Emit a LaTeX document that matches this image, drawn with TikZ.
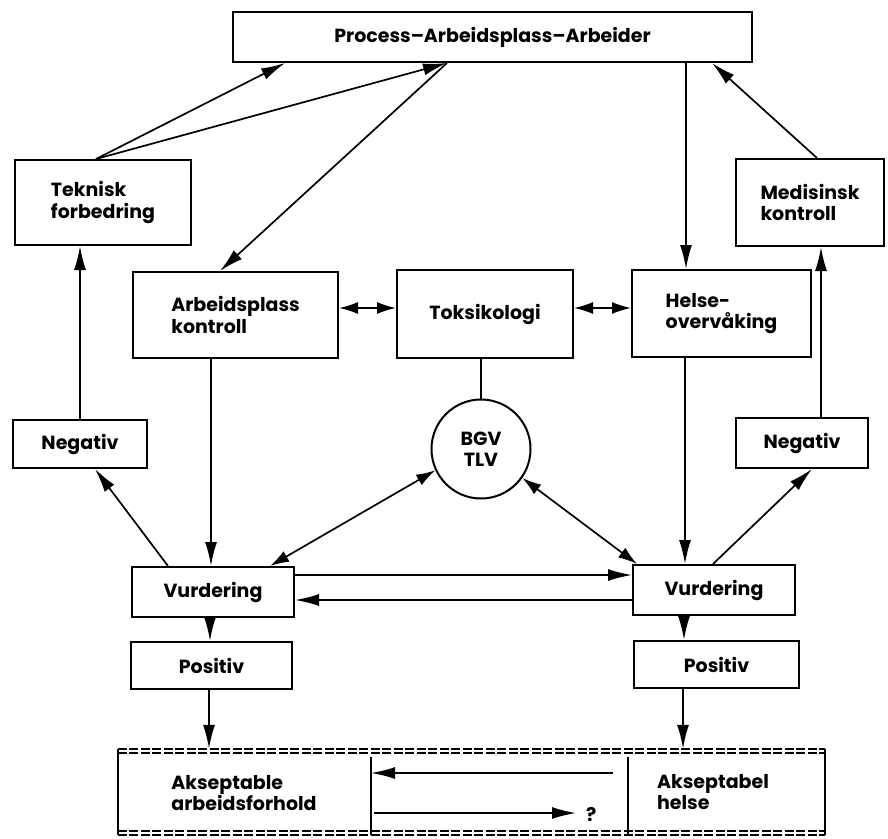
\documentclass[tikz,border=0pt]{standalone}
\usepackage{fontspec}
\setmainfont{Poppins}
\usetikzlibrary{arrows.meta,calc}
\begin{document}
\begin{tikzpicture}[x=1pt,y=-1pt,
  font=\fontsize{19}{21.5}\selectfont\bfseries,
  box/.style={draw, line width=2pt, inner sep=0pt, align=left},
  arr/.style={line width=1.7pt, -{Latex[length=24pt,width=12pt]}},
  darr/.style={line width=1.7pt, {Latex[length=19pt,width=12pt]}-{Latex[length=19pt,width=12pt]}},
  ln/.style={line width=1.7pt},
  dd/.style={line width=1.6pt, dash pattern=on 9pt off 2.5pt}]
\useasboundingbox (0,0) rectangle (888,838);
% boxes
\node[box, minimum width=519pt, minimum height=50pt] (top) at (492.5,37) {Process–Arbeidsplass–Arbeider};
\node[box, minimum width=176pt, minimum height=85pt] (tek) at (103,202.5) {Teknisk\\forbedring};
\node[box, minimum width=148pt, minimum height=87pt] (med) at (810,202.5) {Medisinsk\\kontroll};
\node[box, minimum width=205pt, minimum height=86pt] (arb) at (235.5,315) {Arbeidsplass\\kontroll};
\node[box, minimum width=176pt, minimum height=88pt] (tok) at (485,314) {Toksikologi};
\node[box, minimum width=179pt, minimum height=87pt] (hel) at (721.5,313.5) {Helse-\\overvåking};
\node[box, minimum width=134pt, minimum height=48pt] (negL) at (80,444) {Negativ};
\node[box, minimum width=132pt, minimum height=50pt] (negR) at (802,443) {Negativ};
\node[box, minimum width=162pt, minimum height=50pt] (vurL) at (213,592) {Vurdering};
\node[box, minimum width=162pt, minimum height=50pt] (vurR) at (714,590) {Vurdering};
\node[box, minimum width=161pt, minimum height=47pt] (posL) at (211.5,665.5) {Positiv};
\node[box, minimum width=165pt, minimum height=47pt] (posR) at (716.5,664.5) {Positiv};
\node[draw, circle, line width=2pt, minimum size=99pt, inner sep=0pt, align=center] (bgv) at (481,449) {BGV\\TLV};
% bottom box
\node[minimum width=707pt, minimum height=86pt, inner sep=0pt] (akz) at (471.5,792) {};
\draw[dd] (akz.north west) -- (akz.north east);
\draw[dd] ([yshift=-4pt]akz.north west) -- ([yshift=-4pt]akz.north east);
\draw[dd] (akz.south west) -- (akz.south east);
\draw[dd] ([yshift=4pt]akz.south west) -- ([yshift=4pt]akz.south east);
\draw[line width=1.5pt] (akz.north west) -- (akz.south west);
\draw[line width=1.5pt] (akz.north east) -- (akz.south east);
\coordinate (pL) at (371,757);
\coordinate (pR) at (628,757);
\draw[line width=1.7pt] (pL) -- (pL |- akz.south);
\draw[line width=1.7pt] (pR) -- (pR |- akz.south);
\node[align=left] (akL) at (244,793) {Akseptable\\arbeidsforhold};
\node[align=left] (akR) at (713,792) {Akseptabel\\helse};
\coordinate (a1) at (613,773);
\draw[arr] (a1) -- (a1 -| pL);
\coordinate (a2) at (374,813);
\coordinate (a3) at (576,813);
\draw[arr] (a2) -- (a3);
\node[anchor=west, inner sep=0pt] (q) at (586,815) {?};
% connectors top
\draw[arr] ([xshift=-7pt]tek.north) -- ([xshift=-207.5pt]top.south);
\draw[arr] ([xshift=-7pt]tek.north) -- ([xshift=-45.5pt]top.south);
\draw[arr] ([xshift=-45.5pt]top.south) -- ([xshift=-15.5pt]arb.north);
\draw[arr] ([xshift=193.5pt]top.south) -- ([xshift=-35.5pt]hel.north);
\draw[arr] ([xshift=7pt]med.north) -- ([xshift=219.5pt]top.south);
\draw[arr] ([xshift=19pt]negR.north) -- ([xshift=11pt]med.south);
\draw[arr] (negL.north) -- ([xshift=-23pt]tek.south);
\draw[arr] ([xshift=-45pt]vurL.north) -- ([xshift=15pt]negL.south);
\draw[arr] ([xshift=-1pt]vurR.north) -- ([xshift=10pt]negR.south);
% middle row
\draw[darr] ([yshift=7pt]arb.east) -- ([yshift=6pt]tok.west);
\draw[darr] ([yshift=6pt]tok.east) -- ([yshift=5.5pt]hel.west);
\draw[ln] (bgv.north) -- (bgv.north |- tok.south);
\draw[arr] ([xshift=-24.5pt]arb.south) -- ([xshift=-2pt]vurL.north);
\draw[arr] ([xshift=-36.5pt]hel.south) -- ([xshift=-29pt]vurR.north);
\draw[darr] ([xshift=57pt]vurL.north) -- (bgv.205);
\draw[darr] (bgv.325) -- ([xshift=-77pt]vurR.north);
\draw[arr] ([yshift=17pt]vurL.east) -- ([yshift=15pt]vurR.west);
\draw[arr] ([yshift=-10pt]vurR.west) -- ([yshift=-8pt]vurL.east);
% lower
\draw[arr] ([xshift=-3pt]vurL.south) -- ([xshift=-1.5pt]posL.north);
\draw[arr] ([xshift=-30pt]vurR.south) -- ([xshift=-32.5pt]posR.north);
\draw[arr] ([xshift=-2.5pt]posL.south) -- ([xshift=-2.5pt]posL.south |- akz.north);
\draw[arr] ([xshift=-33.5pt]posR.south) -- ([xshift=-33.5pt]posR.south |- akz.north);
\end{tikzpicture}
\end{document}
